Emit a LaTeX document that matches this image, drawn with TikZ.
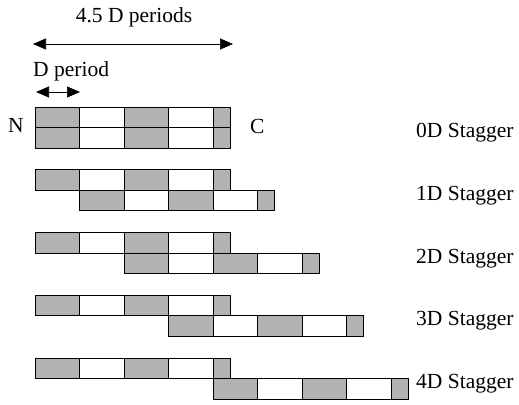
\documentclass[tikz,border=0pt]{standalone}
\usepackage{fontspec}
\setmainfont{Liberation Serif}
\usetikzlibrary{arrows.meta}
\tikzset{
  cell/.style={draw=black, line width=0.9pt, minimum height=20.5pt,
    inner sep=0pt, outer sep=0pt, anchor=north west},
  full/.style={cell, minimum width=44.5pt},
  tail/.style={cell, minimum width=17pt},
  shd/.style={fill=black!30},
  wht/.style={fill=white},
  lbl/.style={font=\fontsize{21.5}{24}\selectfont, inner sep=0pt},
  span/.style={{Triangle[length=13pt,width=11pt]}-{Triangle[length=13pt,width=11pt]},
    line width=0.6pt}
}
% one strand: four D-period cells and a short tail
\newcommand\strand[3]{%
  \node[full,shd] (#1a) at (#2,#3) {};
  \node[full,wht] (#1b) at (#1a.north east) {};
  \node[full,shd] (#1c) at (#1b.north east) {};
  \node[full,wht] (#1d) at (#1c.north east) {};
  \node[tail,shd] (#1e) at (#1d.north east) {};
}
\begin{document}
\begin{tikzpicture}[x=1pt, y=-1pt]
  \useasboundingbox (0,0) rectangle (519,404);

  % scale arrows
  \node[lbl, anchor=base] (len) at (134,23) {4.5 D periods};
  \coordinate (lenL) at (33,44);
  \coordinate (lenR) at (233,44);
  \draw[span] (lenL) -- (lenR);

  \node[lbl, anchor=base west] (per) at (33,77) {D period};
  \coordinate (perL) at (36,92);
  \coordinate (perR) at (80,92);
  \draw[span] (perL) -- (perR);

  % staggered strand pairs
  \foreach \k/\y in {0/107, 1/169.75, 2/232.5, 3/295.25, 4/358} {
    \strand{t\k}{35}{\y}
    \strand{b\k}{35+\k*44.5}{\y+20.5}
    \node[lbl, anchor=base west] (lab\k) at (416,\y+30.5) {\k D Stagger};
  }

  % chain ends
  \node[lbl, anchor=base] (nterm) at (16,132) {N};
  \node[lbl, anchor=base west] (cterm) at (250,133) {C};
\end{tikzpicture}
\end{document}
